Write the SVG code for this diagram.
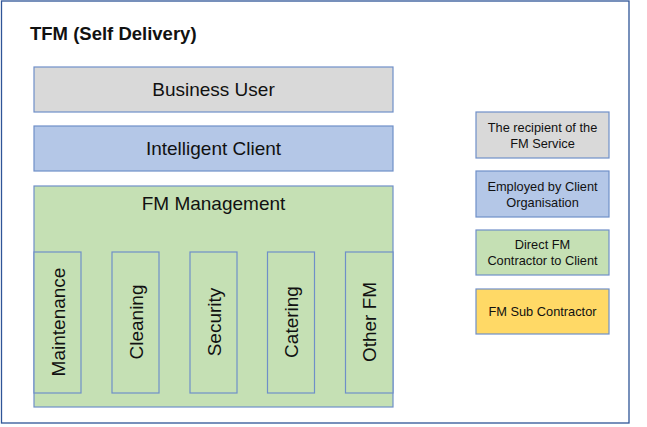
<svg xmlns="http://www.w3.org/2000/svg" width="647" height="427" viewBox="0 0 647 427">
<style>
.box{stroke:#6f8fc8;stroke-width:1.2}
.g{fill:#d9d9d9}.b{fill:#b4c7e7}.gr{fill:#c5e0b4}.y{fill:#ffd966}
text{font-family:"Liberation Sans",Arial,sans-serif;fill:#111111;text-anchor:middle}
.big{font-size:19px}
.v{font-size:19px}
.lg{font-size:12.8px}
</style>
<rect x="0" y="0" width="647" height="427" fill="#ffffff"/>
<rect x="1.5" y="1" width="627.5" height="422" fill="#ffffff" stroke="#2f5597" stroke-width="1.3"/>
<text x="30" y="40" style="font-size:18.5px;font-weight:bold;text-anchor:start">TFM (Self Delivery)</text>
<g id="business-user"><rect class="box g" x="34" y="67" width="359" height="45"/><text class="big" x="213.5" y="96">Business User</text></g>
<g id="intelligent-client"><rect class="box b" x="34" y="126" width="359" height="45"/><text class="big" x="213.5" y="155">Intelligent Client</text></g>
<g id="fm-management"><rect class="box gr" x="34" y="186" width="359" height="221"/><text class="big" x="213.5" y="210">FM Management</text></g>
<g id="maintenance"><rect class="box gr" x="34" y="252" width="47" height="141"/><text class="v" transform="translate(64.5,322) rotate(-90)">Maintenance</text></g>
<g id="cleaning"><rect class="box gr" x="112" y="252" width="47" height="141"/><text class="v" transform="translate(142.5,322) rotate(-90)">Cleaning</text></g>
<g id="security"><rect class="box gr" x="190" y="252" width="47" height="141"/><text class="v" transform="translate(220.5,322) rotate(-90)">Security</text></g>
<g id="catering"><rect class="box gr" x="267.5" y="252" width="47" height="141"/><text class="v" transform="translate(298,322) rotate(-90)">Catering</text></g>
<g id="other-fm"><rect class="box gr" x="345.5" y="252" width="47.5" height="141"/><text class="v" transform="translate(376,322) rotate(-90)">Other FM</text></g>
<g id="legend-recipient"><rect class="box g" x="476" y="112" width="133" height="46"/><text class="lg" x="542.5" y="131.5">The recipient of the</text><text class="lg" x="542.5" y="147.5">FM Service</text></g>
<g id="legend-employed"><rect class="box b" x="476" y="171" width="133" height="46"/><text class="lg" x="542.5" y="190.5">Employed by Client</text><text class="lg" x="542.5" y="206.5">Organisation</text></g>
<g id="legend-direct"><rect class="box gr" x="476" y="230" width="133" height="45"/><text class="lg" x="542.5" y="249">Direct FM</text><text class="lg" x="542.5" y="265">Contractor to Client</text></g>
<g id="legend-sub"><rect class="box y" x="476" y="289" width="133" height="45"/><text class="lg" x="542.5" y="316">FM Sub Contractor</text></g>
<g id="connectors"></g>
</svg>
